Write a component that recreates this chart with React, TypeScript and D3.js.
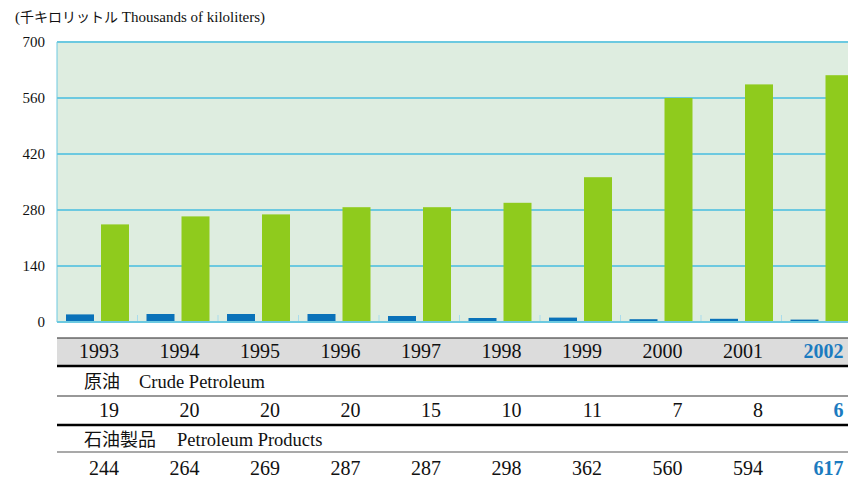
import React from 'react';
import * as d3 from 'd3';

// 年度と数値（千キロリットル）
const years = ['1993', '1994', '1995', '1996', '1997', '1998', '1999', '2000', '2001', '2002'];
const crude = [19, 20, 20, 20, 15, 10, 11, 7, 8, 6];
const products = [244, 264, 269, 287, 287, 298, 362, 560, 594, 617];
const yTicks = [0, 140, 280, 420, 560, 700];
const series = ['crude', 'products'];

const W = 848;
const H = 478;
const left = 57;
const serif = 'Liberation Serif, DejaVu Serif, serif';
const cjk = 'Noto Sans CJK JP, sans-serif';
const blue = '#0a72b9';
const green = '#8fcb1d';
const grid = '#6cc9e0';
const hiBlue = '#1b7bc0';

const App = () => {
  const x = d3.scaleBand<string>().domain(years).range([left, left + 805]);
  const sub = d3.scaleBand<string>().domain(series).range([9, 72]).paddingInner(0.2);
  const y = d3.scaleLinear().domain([0, 700]).range([322, 42]);
  const last = years.length - 1;

  const rowText = (vals: (string | number)[], baseline: number) =>
    vals.map((v, i) => (
      <text
        key={i}
        x={(x(years[i]) as number) + 62}
        y={baseline}
        textAnchor="end"
        fontFamily={serif}
        fontSize={20}
        fill={i === last ? hiBlue : '#111'}
        fontWeight={i === last ? 'bold' : 'normal'}
      >
        {v}
      </text>
    ));

  return (
    <div style={{ position: 'absolute', left: 0, top: 0 }}>
      <svg width={W} height={H} style={{ display: 'block' }}>
        <text x={15} y={22} fontSize={15} fill="#111" fontFamily={serif}>
          (<tspan fontFamily={cjk} fontSize={14}>千キロリットル</tspan> Thousands of kiloliters)
        </text>

        {/* 背景 */}
        <rect x={left} y={y(700)} width={805} height={y(0) - y(700)} fill="#deede0" />
        <line x1={left} x2={left} y1={y(700)} y2={y(0)} stroke={grid} strokeWidth={1} />

        {/* グリッド */}
        {yTicks.map(t => (
          <g key={t}>
            <line x1={left} x2={W} y1={y(t)} y2={y(t)} stroke={grid} strokeWidth={2} />
            <text x={45} y={y(t) + 5} textAnchor="end" fontSize={15} fill="#111" fontFamily={serif}>
              {t}
            </text>
          </g>
        ))}

        {/* 目盛り */}
        {years.slice(1).map(yr => (
          <line
            key={yr}
            x1={x(yr) as number}
            x2={x(yr) as number}
            y1={y(0) - 7}
            y2={y(0)}
            stroke="#a9dcec"
            strokeWidth={1}
          />
        ))}

        {/* 棒 */}
        {years.map((yr, i) => (
          <g key={yr}>
            <rect
              x={(x(yr) as number) + (sub('crude') as number)}
              y={y(crude[i])}
              width={sub.bandwidth()}
              height={y(0) - y(crude[i])}
              fill={blue}
            />
            <rect
              x={(x(yr) as number) + (sub('products') as number)}
              y={y(products[i])}
              width={sub.bandwidth()}
              height={y(0) - y(products[i])}
              fill={green}
            />
          </g>
        ))}
        <line x1={left} x2={W} y1={y(0)} y2={y(0)} stroke={grid} strokeWidth={2} />

        {/* 表 */}
        <rect x={left} y={338} width={W - left} height={27} fill="#dcdcdc" />
        <line x1={left} x2={W} y1={338} y2={338} stroke="#222" strokeWidth={1.2} />
        <line x1={left} x2={W} y1={366} y2={366} stroke="#000" strokeWidth={2.5} />
        <line x1={left} x2={W} y1={396} y2={396} stroke="#333" strokeWidth={1.2} />
        <line x1={left} x2={W} y1={425} y2={425} stroke="#000" strokeWidth={2.5} />
        <line x1={left} x2={W} y1={452} y2={452} stroke="#555" strokeWidth={1.2} />

        {rowText(years, 358)}

        <text x={84} y={388} fontSize={18} fill="#111" fontFamily={cjk}>原油</text>
        <text x={139} y={388} fontSize={18.5} fill="#111" fontFamily={serif}>Crude Petroleum</text>
        {rowText(crude, 417)}

        <text x={84} y={446} fontSize={18} fill="#111" fontFamily={cjk}>石油製品</text>
        <text x={177} y={446} fontSize={18.5} fill="#111" fontFamily={serif}>Petroleum Products</text>
        {rowText(products, 475)}
      </svg>
    </div>
  );
};

export default App;
